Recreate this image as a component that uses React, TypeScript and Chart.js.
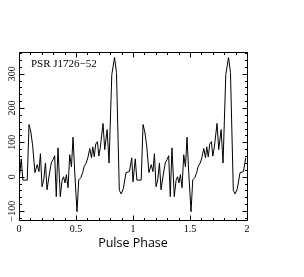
import React, { useEffect, useRef } from "react";
import { Chart, registerables } from "chart.js";

Chart.register(...registerables);

// One rotation of the pulse profile (phase, flux), shown twice
const periodPhase = [
  0.0, 0.02, 0.034, 0.072, 0.088, 0.104, 0.12, 0.14, 0.16, 0.175,
  0.188, 0.202, 0.217, 0.232, 0.246, 0.265, 0.283, 0.299, 0.313, 0.327,
  0.342, 0.362, 0.378, 0.391, 0.403, 0.416, 0.43, 0.445, 0.46, 0.474,
  0.489, 0.509, 0.524, 0.542, 0.559, 0.572, 0.59, 0.606, 0.621, 0.636,
  0.647, 0.66, 0.673, 0.688, 0.7, 0.713, 0.737, 0.752, 0.773, 0.79,
  0.814, 0.838, 0.855, 0.88, 0.896, 0.915, 0.939, 0.969, 0.989,
];
const periodFlux = [
  -15, 52, -10, -10, 152, 130, 90, 12, 35, 15,
  67, -29, -9, 40, -38, 5, 40, 50, 61, -58,
  84, -58, -10, 0, -18, 6, -32, 64, 29, 115,
  12, -102, -9, -3, 12, 30, 40, 58, 82, 55,
  87, 58, 95, 102, 60, 85, 155, 79, 137, 40,
  297, 347, 303, -40, -50, -35, 12, 15, 55,
];
const cycles = [0, 1];

const xMin = 0;
const xMax = 2;
const yMin = -126;
const yMax = 363;
const xMajorTicks = [0, 0.5, 1, 1.5, 2];
const xMinorStep = 0.1;
const yTickLabels = [-100, 0, 100, 200, 300];
const yMinorStep = 20;
const pulsarName = "PSR J1726\u221252";
const xTitle = "Pulse Phase";

const SERIF = '"Liberation Serif", "DejaVu Serif", serif';

const framePlugin = {
  id: "pgframe",
  afterDatasetsDraw(chart: any) {
    const { ctx, chartArea: a, scales } = chart;
    const x = scales.x;
    const y = scales.y;
    ctx.save();
    ctx.strokeStyle = "#000";
    ctx.lineWidth = 1;
    const L = Math.round(a.left) + 0.5;
    const R = Math.round(a.right) + 0.5;
    const T = Math.round(a.top) + 0.5;
    const B = Math.round(a.bottom) + 0.5;
    ctx.beginPath();
    ctx.rect(L, T, R - L, B - T);
    ctx.stroke();

    ctx.beginPath();
    const nx = Math.round((xMax - xMin) / xMinorStep);
    for (let i = 0; i <= nx; i++) {
      const v = xMin + i * xMinorStep;
      const major = xMajorTicks.some((t) => Math.abs(t - v) < 1e-6);
      const len = major ? 5 : 2.5;
      const px = Math.round(x.getPixelForValue(v)) + 0.5;
      ctx.moveTo(px, B);
      ctx.lineTo(px, B - len);
      ctx.moveTo(px, T);
      ctx.lineTo(px, T + len);
    }
    const start = Math.ceil(yMin / yMinorStep) * yMinorStep;
    for (let v = start; v <= yMax; v += yMinorStep) {
      const major = yTickLabels.includes(v);
      const len = major ? 5 : 2.5;
      const py = Math.round(y.getPixelForValue(v)) + 0.5;
      ctx.moveTo(L, py);
      ctx.lineTo(L + len, py);
      ctx.moveTo(R, py);
      ctx.lineTo(R - len, py);
    }
    ctx.stroke();

    ctx.fillStyle = "#000";
    ctx.font = `10px ${SERIF}`;
    ctx.textAlign = "center";
    ctx.textBaseline = "middle";
    for (const v of yTickLabels) {
      const py = y.getPixelForValue(v);
      const label = v < 0 ? "\u2212" + Math.abs(v) : String(v);
      ctx.save();
      ctx.translate(12, py);
      ctx.rotate(-Math.PI / 2);
      ctx.fillText(label, 0, 0);
      ctx.restore();
    }

    ctx.font = `11px ${SERIF}`;
    ctx.textAlign = "left";
    ctx.textBaseline = "middle";
    ctx.fillText(pulsarName, a.left + 12, a.top + 12);
    ctx.restore();
  },
};

export default function App() {
  const canvasRef = useRef<HTMLCanvasElement | null>(null);

  useEffect(() => {
    const canvas = canvasRef.current;
    if (!canvas) return;
    const points = cycles.flatMap((c) =>
      periodPhase.map((p, i) => ({ x: p + c, y: periodFlux[i] }))
    );
    const chart = new Chart(canvas, {
      type: "line",
      data: {
        datasets: [
          {
            data: points,
            borderColor: "#000",
            borderWidth: 1,
            pointRadius: 0,
            tension: 0,
            fill: false,
          },
        ],
      },
      options: {
        animation: false,
        responsive: false,
        devicePixelRatio: 1,
        layout: { padding: { top: 52, right: 57, left: 0, bottom: 0 } },
        plugins: {
          legend: { display: false },
          tooltip: { enabled: false },
          title: { display: false },
        },
        scales: {
          x: {
            type: "linear",
            position: "bottom",
            min: xMin,
            max: xMax,
            afterFit: (s: any) => {
              s.height = 57;
              s.paddingLeft = 0;
              s.paddingRight = 0;
            },
            afterBuildTicks: (s: any) => {
              s.ticks = xMajorTicks.map((v) => ({ value: v }));
            },
            grid: { display: false, drawTicks: false },
            border: { display: false },
            ticks: {
              autoSkip: false,
              maxRotation: 0,
              minRotation: 0,
              padding: 3,
              color: "#000",
              font: { family: SERIF, size: 10 },
              callback: (v: any) => String(Number(v)),
            },
            title: {
              display: true,
              text: xTitle,
              color: "#000",
              font: { family: '"Open Sans", sans-serif', size: 12.5 },
              padding: { top: 0, bottom: 26 },
            },
          },
          y: {
            type: "linear",
            min: yMin,
            max: yMax,
            afterFit: (s: any) => {
              s.width = 19;
              s.paddingTop = 0;
              s.paddingBottom = 0;
            },
            grid: { display: false, drawTicks: false },
            border: { display: false },
            ticks: { display: false },
          },
        },
      },
      plugins: [framePlugin],
    });
    return () => chart.destroy();
  }, []);

  return (
    <div
      style={{
        position: "fixed",
        left: 0,
        top: 0,
        width: 304,
        height: 277,
        background: "#fff",
      }}
    >
      <canvas
        ref={canvasRef}
        width={304}
        height={277}
        style={{ width: 304, height: 277, display: "block" }}
      />
    </div>
  );
}
